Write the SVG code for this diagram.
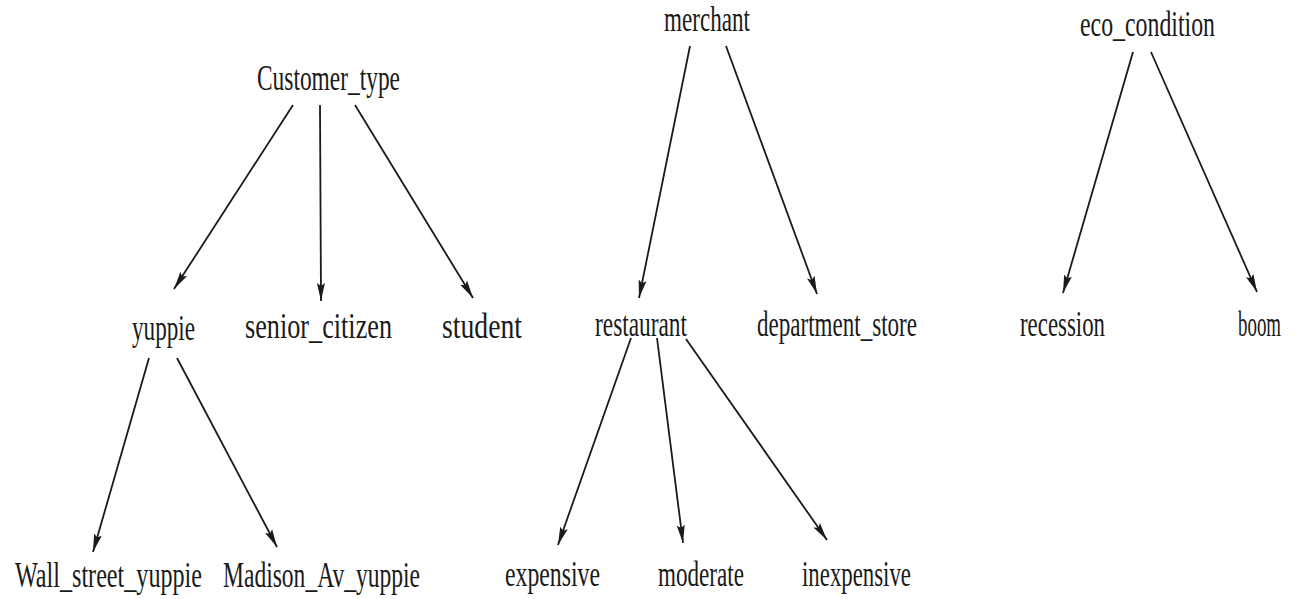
<svg xmlns="http://www.w3.org/2000/svg" width="1303" height="599" viewBox="0 0 1303 599">
<style>
text{font-family:"Liberation Serif","Times New Roman",serif;font-size:35px;fill:#1a1a1a;}
.e{stroke:#1a1a1a;stroke-width:1.8;fill:none;marker-end:url(#ah);}
</style>
<defs>
<marker id="ah" markerUnits="userSpaceOnUse" markerWidth="20" markerHeight="10" refX="18" refY="5" orient="auto">
<path d="M0,1 L18,5 L0,9 L3,5 Z" fill="#1a1a1a"/>
</marker>
</defs>
<rect width="1303" height="599" fill="#ffffff"/>
<g id="connectors">
<line class="e" x1="293" y1="105" x2="174" y2="289"/>
<line class="e" x1="320" y1="105" x2="321" y2="301"/>
<line class="e" x1="355" y1="105" x2="473" y2="298"/>
<line class="e" x1="690" y1="46" x2="639" y2="298"/>
<line class="e" x1="726" y1="46" x2="817" y2="294"/>
<line class="e" x1="1133" y1="52" x2="1063" y2="293"/>
<line class="e" x1="1151" y1="52" x2="1257" y2="292"/>
<line class="e" x1="149" y1="358" x2="93" y2="552"/>
<line class="e" x1="177" y1="358" x2="277" y2="547"/>
<line class="e" x1="631" y1="338" x2="558" y2="545"/>
<line class="e" x1="657" y1="338" x2="683" y2="543"/>
<line class="e" x1="686" y1="339" x2="827" y2="540"/>
</g>
<g id="customer_type"><text x="257" y="90" textLength="143" lengthAdjust="spacingAndGlyphs">Customer_type</text></g>
<g id="merchant"><text x="664" y="31" textLength="86" lengthAdjust="spacingAndGlyphs">merchant</text></g>
<g id="eco_condition"><text x="1080" y="36" textLength="135" lengthAdjust="spacingAndGlyphs">eco_condition</text></g>
<g id="yuppie"><text x="132" y="340" textLength="63" lengthAdjust="spacingAndGlyphs">yuppie</text></g>
<g id="senior_citizen"><text x="245" y="338" textLength="147" lengthAdjust="spacingAndGlyphs">senior_citizen</text></g>
<g id="student"><text x="442" y="338" textLength="80" lengthAdjust="spacingAndGlyphs">student</text></g>
<g id="restaurant"><text x="595" y="336" textLength="92" lengthAdjust="spacingAndGlyphs">restaurant</text></g>
<g id="department_store"><text x="757" y="336" textLength="160" lengthAdjust="spacingAndGlyphs">department_store</text></g>
<g id="recession"><text x="1020" y="336" textLength="85" lengthAdjust="spacingAndGlyphs">recession</text></g>
<g id="boom"><text x="1281" y="336" text-anchor="end" textLength="43" lengthAdjust="spacingAndGlyphs">boom</text></g>
<g id="wall_street_yuppie"><text x="15" y="587" textLength="187" lengthAdjust="spacingAndGlyphs">Wall_street_yuppie</text></g>
<g id="madison_av_yuppie"><text x="223" y="587" textLength="197" lengthAdjust="spacingAndGlyphs">Madison_Av_yuppie</text></g>
<g id="expensive"><text x="505" y="586" textLength="95" lengthAdjust="spacingAndGlyphs">expensive</text></g>
<g id="moderate"><text x="658" y="586" textLength="86" lengthAdjust="spacingAndGlyphs">moderate</text></g>
<g id="inexpensive"><text x="802" y="586" textLength="109" lengthAdjust="spacingAndGlyphs">inexpensive</text></g>
</svg>
